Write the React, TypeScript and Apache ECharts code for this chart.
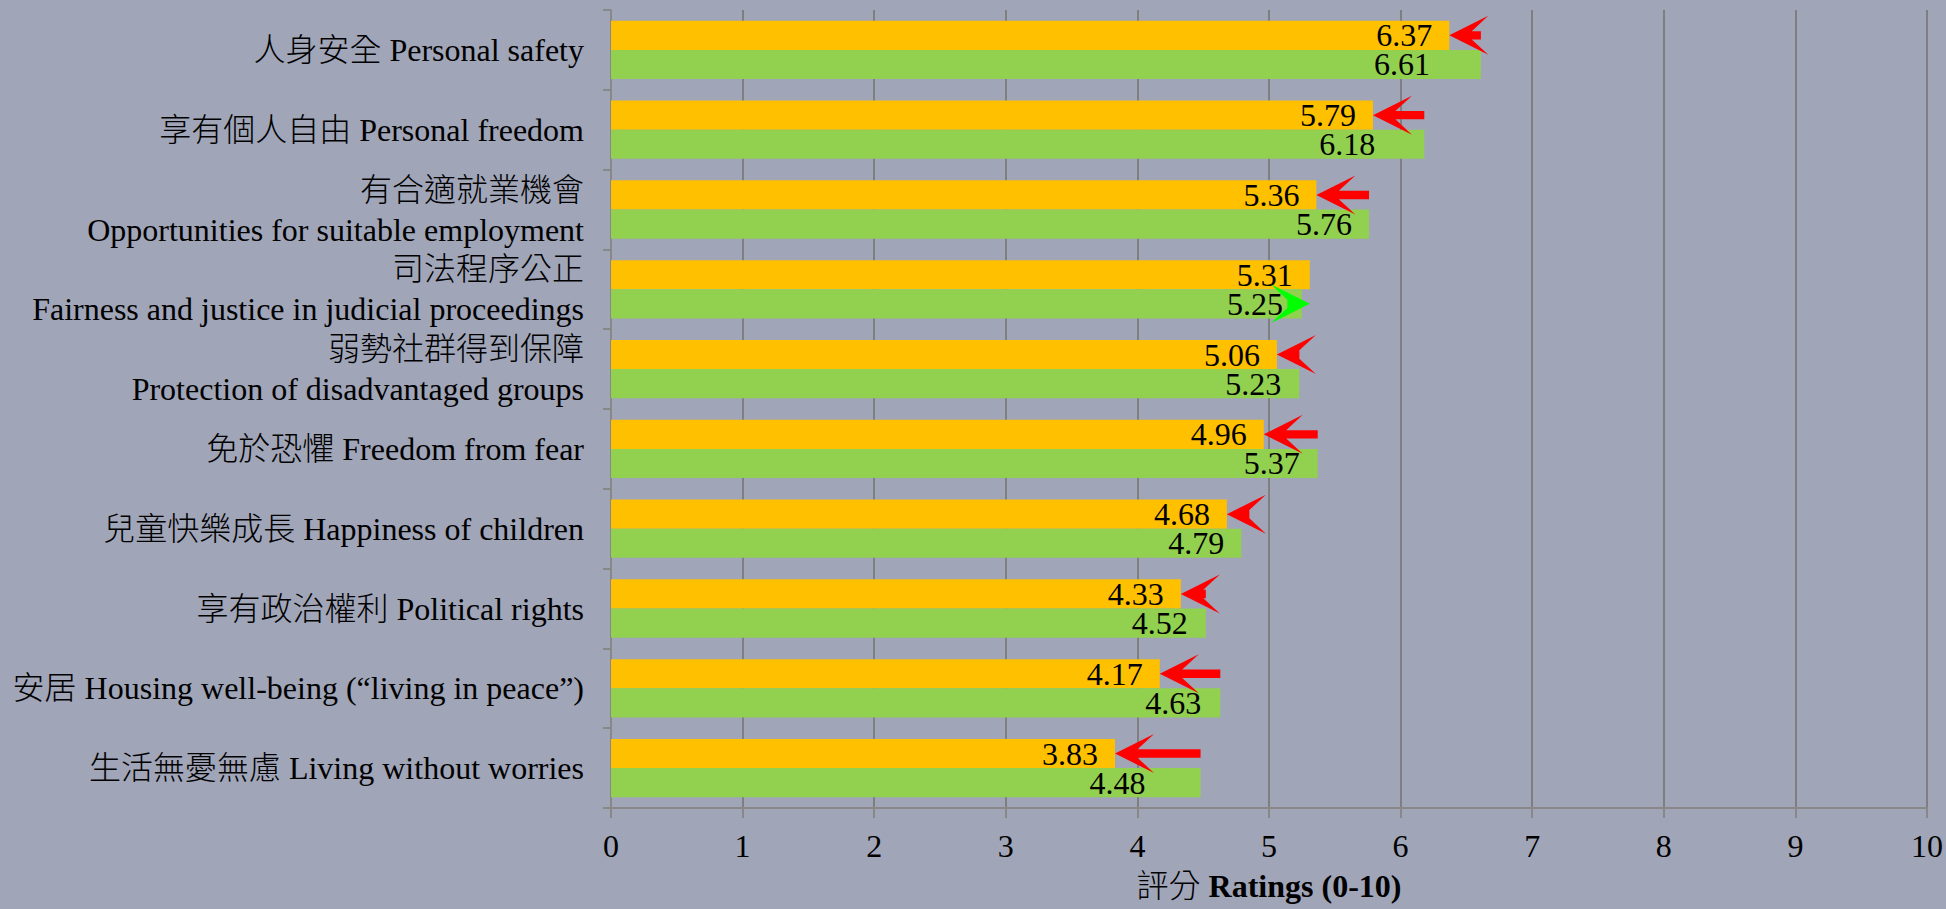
import React, { useEffect, useRef } from 'react';
import * as echarts from 'echarts';

const categories = [
  '人身安全 Personal safety',
  '享有個人自由 Personal freedom',
  '有合適就業機會\nOpportunities for suitable employment',
  '司法程序公正\nFairness and justice in judicial proceedings',
  '弱勢社群得到保障\nProtection of disadvantaged groups',
  '免於恐懼 Freedom from fear',
  '兒童快樂成長 Happiness of children',
  '享有政治權利 Political rights',
  '安居 Housing well-being (“living in peace”)',
  '生活無憂無慮 Living without worries',
];
const currentRatings = [6.37, 5.79, 5.36, 5.31, 5.06, 4.96, 4.68, 4.33, 4.17, 3.83];
const previousRatings = [6.61, 6.18, 5.76, 5.25, 5.23, 5.37, 4.79, 4.52, 4.63, 4.48];
const xTickLabels = ['0', '1', '2', '3', '4', '5', '6', '7', '8', '9', '10'];
const axisTitleCJK = '評分';
const axisTitleEN = 'Ratings (0-10)';

// style only: how far each previous-rating label sits inside its bar end
const previousLabelInset = [51, 49, 17, 19, 18, 18, 17, 18, 19, 55];

const FONT = "'Liberation Serif', 'Times New Roman', 'Noto Sans CJK TC', serif";
const BG = '#A0A5B8';
const GRID = '#7F7F7F';
const ORANGE = '#FFC000';
const GREEN = '#92D050';
const CAT_GAP = 0.27;

export default function App() {
  const ref = useRef<HTMLDivElement>(null);
  useEffect(() => {
    document.body.style.margin = '0';
    const chart = echarts.init(ref.current!, null, { renderer: 'svg' });
    const arrowData = currentRatings.map((v, i) => [i, v, previousRatings[i]]);
    chart.setOption({
      animation: false,
      backgroundColor: BG,
      textStyle: { fontFamily: FONT },
      grid: { left: 611, right: 19, top: 10, bottom: 101, containLabel: false },
      xAxis: {
        type: 'value',
        min: 0,
        max: 10,
        interval: 1,
        name: `{c|${axisTitleCJK}}{e|\u00a0${axisTitleEN}}`,
        nameLocation: 'middle',
        nameGap: 62,
        nameTextStyle: {
          rich: {
            c: { fontFamily: FONT, fontSize: 32, color: '#000', fontWeight: 300 },
            e: { fontFamily: FONT, fontSize: 32, color: '#000', fontWeight: 'bold' },
          },
        },
        axisLine: { show: true, lineStyle: { color: '#888888', width: 2 } },
        axisTick: { show: true, length: 10, lineStyle: { color: '#888888', width: 2 } },
        axisLabel: {
          fontFamily: FONT,
          fontSize: 32,
          color: '#000',
          margin: 22,
          formatter: (v: number) => xTickLabels[Math.round(v)] ?? String(v),
        },
        splitLine: { show: true, lineStyle: { color: GRID, width: 2 } },
      },
      yAxis: {
        type: 'category',
        data: categories,
        inverse: true,
        axisLine: { show: true, lineStyle: { color: '#888888', width: 2 } },
        axisTick: { show: true, length: 8, lineStyle: { color: '#888888', width: 2 } },
        axisLabel: {
          fontFamily: FONT,
          fontSize: 32,
          fontWeight: 300,
          lineHeight: 40,
          color: '#000',
          margin: 27,
        },
        splitLine: { show: false },
      },
      series: [
        {
          type: 'bar',
          name: 'current',
          data: currentRatings,
          barGap: '0%',
          barCategoryGap: `${CAT_GAP * 100}%`,
          itemStyle: { color: ORANGE },
          label: {
            show: true,
            position: 'insideRight',
            distance: 17,
            fontFamily: FONT,
            fontSize: 32,
            color: '#000',
            formatter: (p: any) => Number(p.value).toFixed(2),
          },
          z: 2,
        },
        {
          type: 'bar',
          name: 'previous',
          data: previousRatings.map((v, i) => ({ value: v, label: { distance: previousLabelInset[i] } })),
          itemStyle: { color: GREEN },
          label: {
            show: true,
            position: 'insideRight',
            distance: 17,
            fontFamily: FONT,
            fontSize: 32,
            color: '#000',
            formatter: (p: any) => Number(p.value).toFixed(2),
          },
          z: 2,
        },
        {
          type: 'custom',
          name: 'change',
          data: arrowData,
          encode: { y: 0, x: [1, 2] },
          z: 3,
          silent: true,
          renderItem: (params: any, api: any) => {
            const idx = api.value(0);
            const cur = api.value(1);
            const prev = api.value(2);
            const band = api.size([0, 1])[1];
            const colW = (band * (1 - CAT_GAP)) / 2;
            const center = api.coord([0, idx])[1];
            const xCur = api.coord([cur, idx])[0];
            const xPrev = api.coord([prev, idx])[0];
            const up = cur > prev;
            const y = up ? center + colW / 2 : center - colW / 2;
            const dir = up ? 1 : -1;
            const L = 39, H = 19.5, s = 4.2, n = 0.46;
            const a = n * L + (1 - n) * L * (s / H);
            const back = (d: number) => xCur - dir * d;
            const tailD = Math.max(Math.abs(xPrev - xCur), a);
            const points = [
              [xCur, y],
              [back(L), y - H],
              [back(a), y - s],
              [back(tailD), y - s],
              [back(tailD), y + s],
              [back(a), y + s],
              [back(L), y + H],
            ];
            return {
              type: 'polygon',
              shape: { points },
              style: { fill: up ? '#00FF00' : '#FF0000' },
            };
          },
        },
      ],
    });
    return () => chart.dispose();
  }, []);
  return <div ref={ref} style={{ width: 1946, height: 909 }} />;
}
